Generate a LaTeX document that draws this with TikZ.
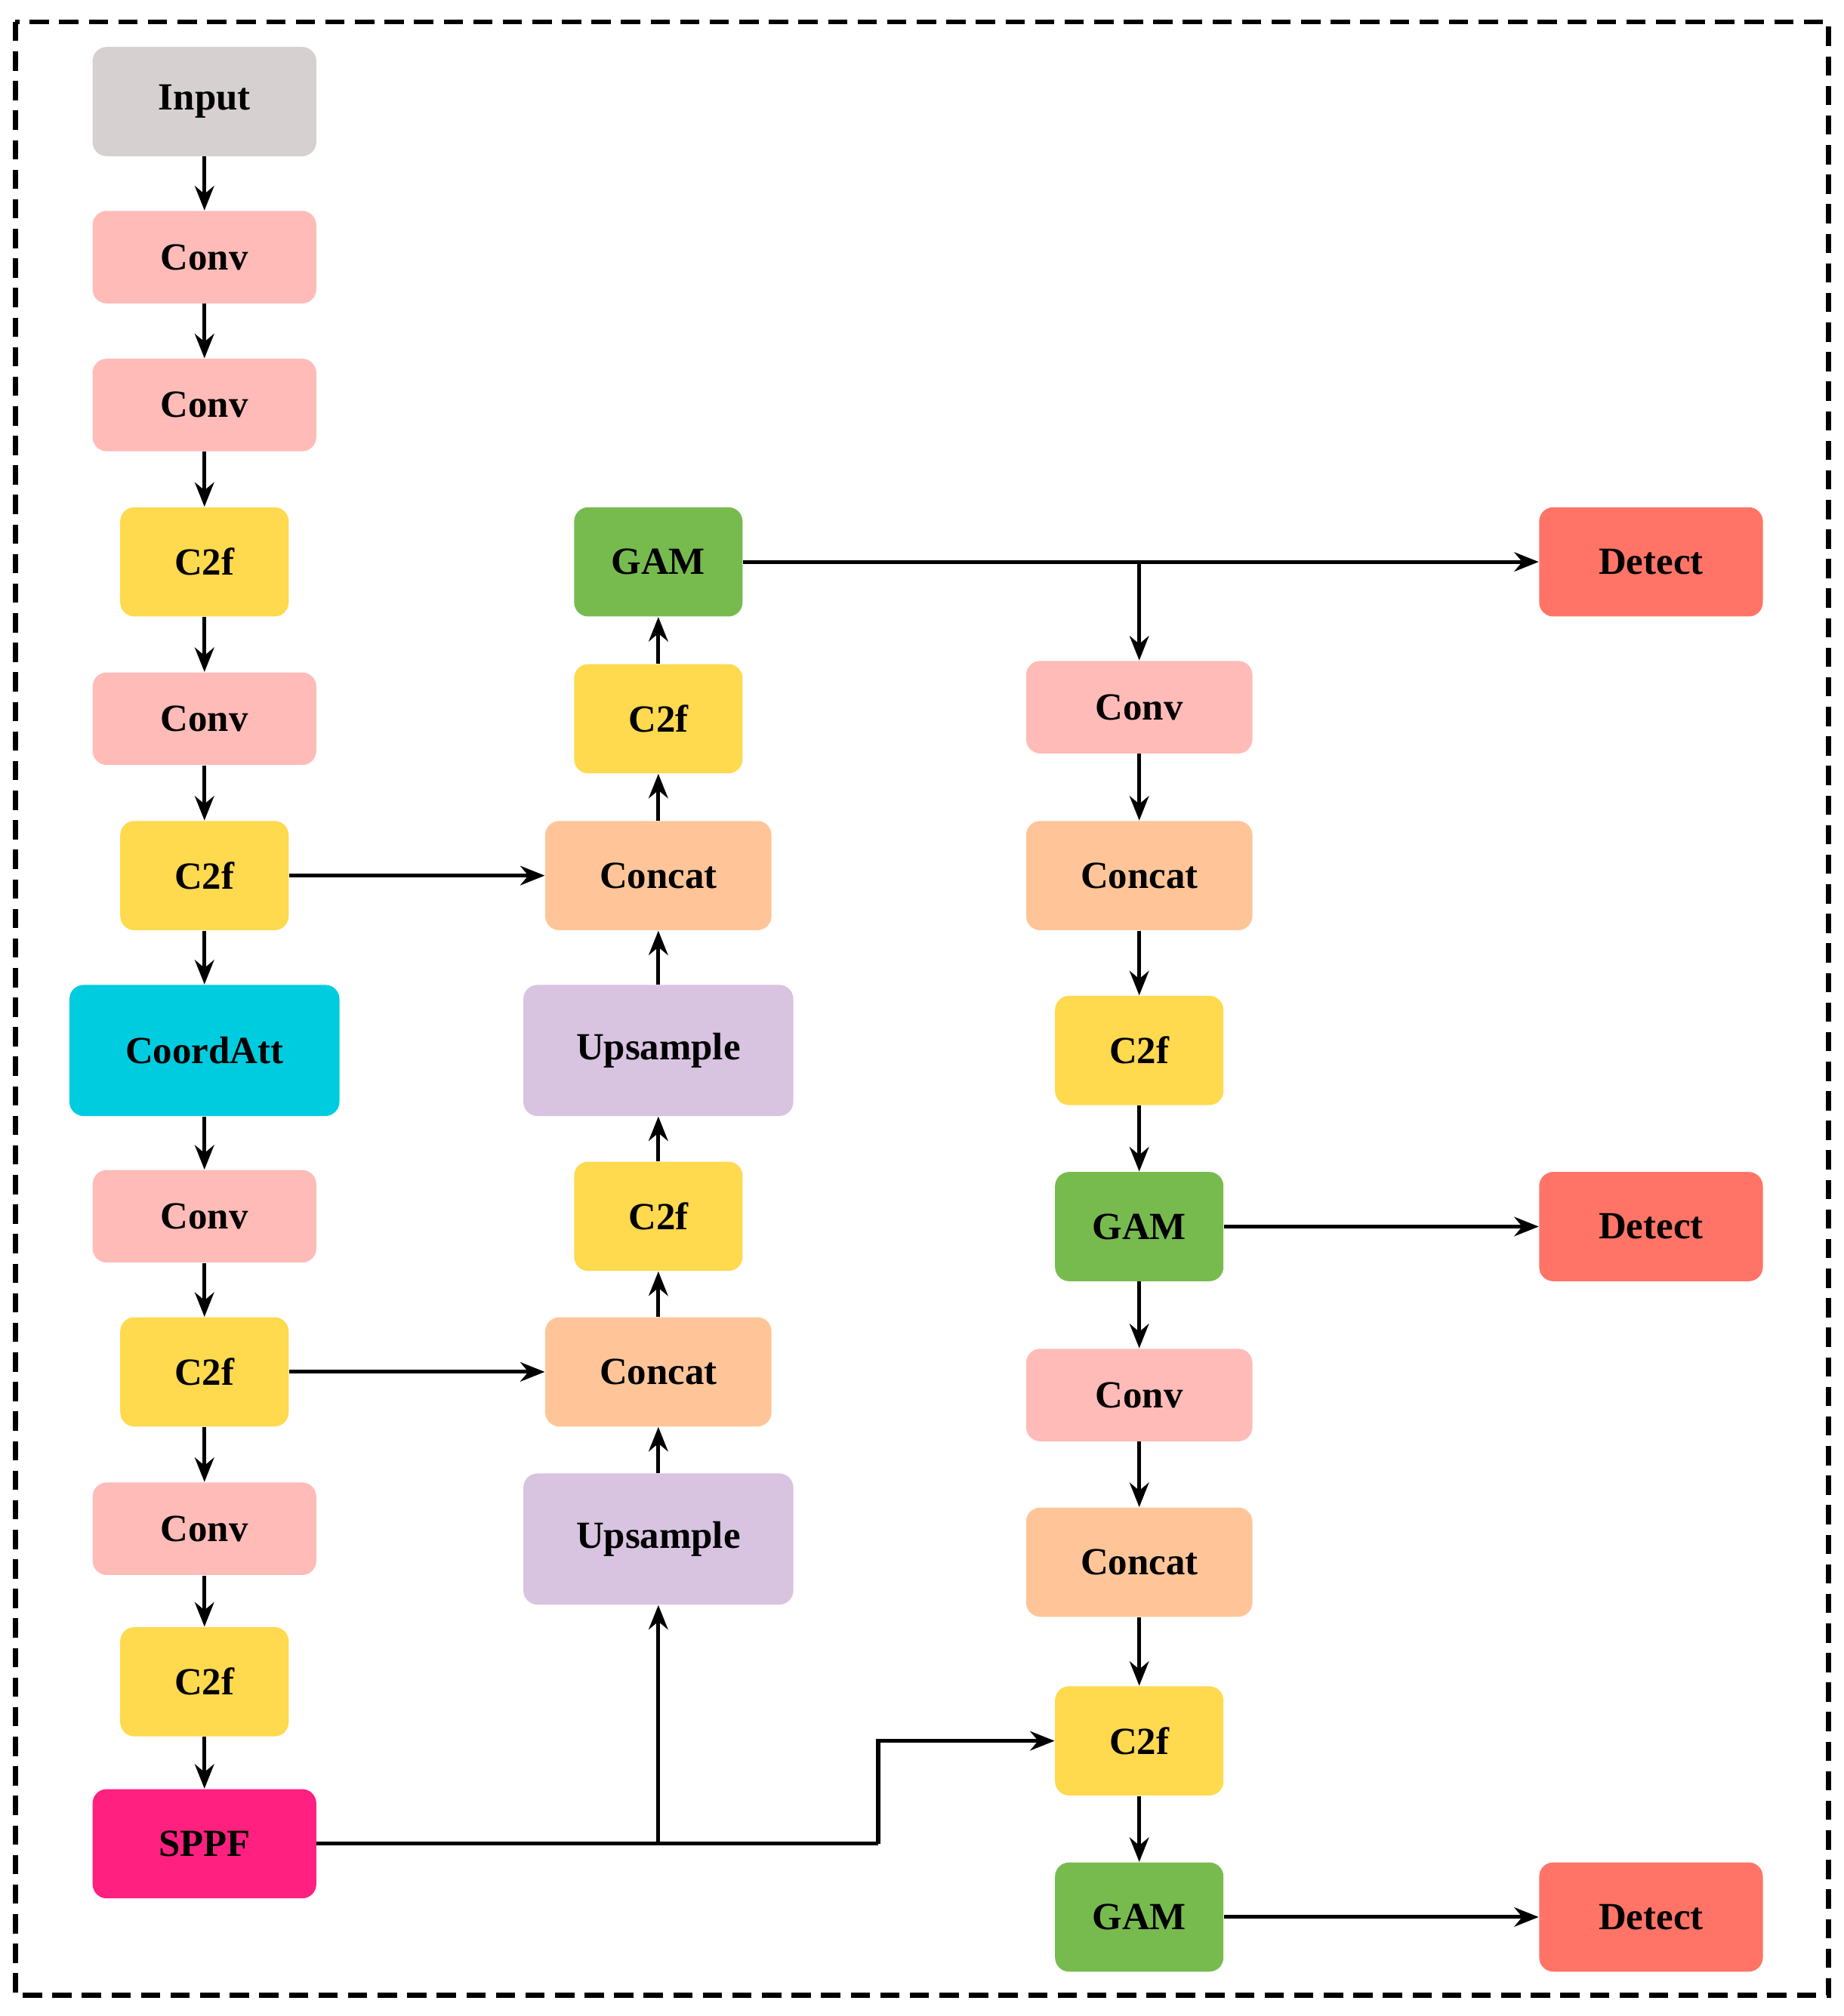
\documentclass[tikz,border=0pt]{standalone}
\usepackage{fontspec}
\setmainfont{Liberation Serif}
\usetikzlibrary{arrows.meta}
\definecolor{cin}{HTML}{D6D0D0}
\definecolor{cconv}{HTML}{FFBBB8}
\definecolor{cc2f}{HTML}{FFD94E}
\definecolor{ccoord}{HTML}{00CCE0}
\definecolor{csppf}{HTML}{FF2080}
\definecolor{cgam}{HTML}{77BB4F}
\definecolor{ccat}{HTML}{FFC598}
\definecolor{cup}{HTML}{D8C3E0}
\definecolor{cdet}{HTML}{FF7466}
\begin{document}
\begin{tikzpicture}[x=0.02cm,y=-0.02cm,
 b/.style={rounded corners=0.22cm,inner sep=0pt,font=\fontsize{17}{20}\selectfont\bfseries},
 w174/.style={minimum width=3.48cm},w132/.style={minimum width=2.62cm},w210/.style={minimum width=4.2cm},w176/.style={minimum width=3.52cm},
 h72/.style={minimum height=1.44cm},h84/.style={minimum height=1.7cm},h102/.style={minimum height=2.04cm},
 conv/.style={b,fill=cconv,w174,h72},c2f/.style={b,fill=cc2f,w132,h84},gam/.style={b,fill=cgam,w132,h84},
 cat/.style={b,fill=ccat,w176,h84},up/.style={b,fill=cup,w210,h102},det/.style={b,fill=cdet,w174,h84},
 ar/.style={-{Stealth[length=0.38cm,width=0.3cm]},line width=1.7pt}]
\useasboundingbox (0,0) rectangle (1434,1568);
\draw[line width=2.2pt,dash pattern=on 0.3cm off 0.16cm] (12,17) rectangle (1422,1552);
% column 1
\node[b,fill=cin,w174,h84] (in) at (159,79) {Input};
\node[conv] (a1) at (159,200) {Conv};
\node[conv] (a2) at (159,315) {Conv};
\node[c2f] (a3) at (159,437) {C2f};
\node[conv] (a4) at (159,559) {Conv};
\node[c2f] (a5) at (159,681) {C2f};
\node[b,fill=ccoord,w210,h102] (a6) at (159,817) {CoordAtt};
\node[conv] (a7) at (159,946) {Conv};
\node[c2f] (a8) at (159,1067) {C2f};
\node[conv] (a9) at (159,1189) {Conv};
\node[c2f] (a10) at (159,1308) {C2f};
\node[b,fill=csppf,w174,h84] (sp) at (159,1434) {SPPF};
% column 2
\node[gam] (g1) at (512,437) {GAM};
\node[c2f] (b1) at (512,559) {C2f};
\node[cat] (b2) at (512,681) {Concat};
\node[up] (b3) at (512,817) {Upsample};
\node[c2f] (b4) at (512,946) {C2f};
\node[cat] (b5) at (512,1067) {Concat};
\node[up] (b6) at (512,1197) {Upsample};
% column 3
\node[b,fill=cconv,w176,h72] (c1) at (886,550) {Conv};
\node[cat] (c2) at (886,681) {Concat};
\node[c2f] (c3) at (886,817) {C2f};
\node[gam] (g2) at (886,954) {GAM};
\node[b,fill=cconv,w176,h72] (c4) at (886,1085) {Conv};
\node[cat] (c5) at (886,1215) {Concat};
\node[c2f] (c6) at (886,1354) {C2f};
\node[gam] (g3) at (886,1491) {GAM};
% detect
\node[det] (d1) at (1284,437) {Detect};
\node[det] (d2) at (1284,954) {Detect};
\node[det] (d3) at (1284,1491) {Detect};
\foreach \p/\q in {in/a1,a1/a2,a2/a3,a3/a4,a4/a5,a5/a6,a6/a7,a7/a8,a8/a9,a9/a10,a10/sp}
  \draw[ar] (\p) -- (\q);
\foreach \p/\q in {b6/b5,b5/b4,b4/b3,b3/b2,b2/b1,b1/g1}
  \draw[ar] (\p) -- (\q);
\foreach \p/\q in {c1/c2,c2/c3,c3/g2,g2/c4,c4/c5,c5/c6,c6/g3}
  \draw[ar] (\p) -- (\q);
\draw[ar] (a5) -- (b2);
\draw[ar] (a8) -- (b5);
\draw[ar] (g1) -- (d1);
\draw[ar] (g2) -- (d2);
\draw[ar] (g3) -- (d3);
\coordinate (j1) at (886,437);
\draw[ar] (j1) -- (c1);
\coordinate (j2) at (512,1434);
\coordinate (j3) at (683,1434);
\draw[line width=1.7pt] (sp) -- (j3);
\draw[ar] (j2) -- (b6);
\draw[ar] (j3) |- (c6);
\end{tikzpicture}
\end{document}
